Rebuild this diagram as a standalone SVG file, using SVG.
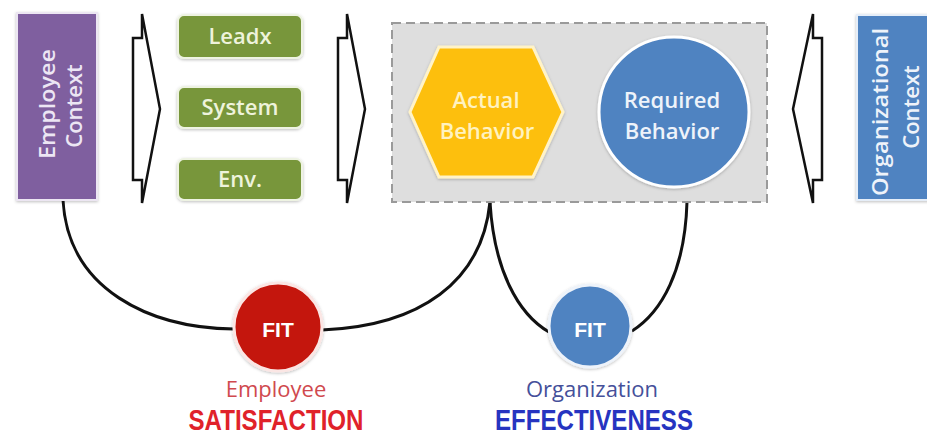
<svg xmlns="http://www.w3.org/2000/svg" width="927" height="435" viewBox="0 0 927 435">
  <defs>
    <filter id="soft" x="-10%" y="-10%" width="120%" height="120%">
      <feDropShadow dx="0" dy="1" stdDeviation="1.5" flood-color="#000" flood-opacity="0.25"/>
    </filter>
    <style>
      .lbl { font-family: "Open Sans", "Liberation Sans", sans-serif; font-size: 22px; font-weight: 600; text-anchor: middle; }
      .ctx { fill: #ece6f4; }
      .green { fill: #78963a; stroke: #eef3e2; stroke-width: 2; filter: url(#soft); }
      .gtxt { fill: #eef3dc; }
      .block { fill: #ffffff; stroke: #111; stroke-width: 2.5; stroke-linejoin: miter; }
      .link { fill: none; stroke: #111; stroke-width: 3; }
      .fit { font-family: "Liberation Sans", Arial, sans-serif; font-weight: bold; font-size: 21px; fill: #ffffff; text-anchor: middle; }
      .big { font-family: "Liberation Sans", Arial, sans-serif; font-weight: bold; font-size: 29px; text-anchor: middle; }
    </style>
  </defs>

  <rect width="927" height="435" fill="#ffffff"/>

  <!-- connectors: fit curves -->
  <g id="connectors">
    <path class="link" d="M63,200 C68,290 150,328 234,329"/>
    <path class="link" d="M322,330 C420,326 482,282 490,202"/>
    <path class="link" d="M490,202 C494,270 518,314 549,332"/>
    <path class="link" d="M687,202 C685,270 662,312 632,331"/>
  </g>

  <!-- outlined block arrows -->
  <g id="arrow-left-in">
    <path class="block" d="M133,38 L142,38 L142,14 L160,109 L142,203 L142,180 L133,180 Z"/>
  </g>
  <g id="arrow-mid-in">
    <path class="block" d="M338,38 L347,38 L347,14 L365,109 L347,203 L347,180 L338,180 Z"/>
  </g>
  <g id="arrow-right-in">
    <path class="block" d="M822,38 L813,38 L813,14 L793,109 L813,203 L813,180 L822,180 Z"/>
  </g>

  <!-- employee context -->
  <g id="employee-context">
    <rect x="17" y="13" width="80" height="187" fill="#7f5f9f" stroke="#ece6f2" stroke-width="2" filter="url(#soft)"/>
    <text class="lbl ctx" transform="translate(55,104) rotate(-90)" textLength="110" lengthAdjust="spacingAndGlyphs">Employee</text>
    <text class="lbl ctx" transform="translate(82,106) rotate(-90)">Context</text>
  </g>

  <!-- green factor boxes -->
  <g id="leadx">
    <rect class="green" x="178" y="15" width="124" height="43" rx="6"/>
    <text class="lbl gtxt" x="240" y="44">Leadx</text>
  </g>
  <g id="system">
    <rect class="green" x="178" y="87" width="124" height="41" rx="6"/>
    <text class="lbl gtxt" x="240" y="115">System</text>
  </g>
  <g id="env">
    <rect class="green" x="178" y="159" width="124" height="41" rx="6"/>
    <text class="lbl gtxt" x="240" y="187">Env.</text>
  </g>

  <!-- behavior frame -->
  <g id="behavior-frame">
    <rect x="392" y="23" width="375" height="179" fill="#dedede" stroke="#9a9a9a" stroke-width="2" stroke-dasharray="9 5"/>
  </g>
  <g id="actual-behavior">
    <polygon points="410,112 439,47 533,47 563,112 533,177 439,177" fill="#fdbf0f" stroke="#fff3c8" stroke-width="3" filter="url(#soft)"/>
    <text class="lbl" x="486" y="108" fill="#fff2c0">Actual</text>
    <text class="lbl" x="487" y="139" fill="#fff2c0">Behavior</text>
  </g>
  <g id="required-behavior">
    <circle cx="674" cy="112" r="75" fill="#4f83c1" stroke="#ffffff" stroke-width="3" filter="url(#soft)"/>
    <text class="lbl" x="672" y="108" fill="#eef3fa">Required</text>
    <text class="lbl" x="672" y="139" fill="#eef3fa">Behavior</text>
  </g>

  <!-- organizational context -->
  <g id="organizational-context">
    <rect x="857" y="15" width="80" height="185" fill="#4f83c1" stroke="#e6eef8" stroke-width="2" filter="url(#soft)"/>
    <text class="lbl" fill="#eef3fa" transform="translate(888,112) rotate(-90)" textLength="168" lengthAdjust="spacingAndGlyphs">Organizational</text>
    <text class="lbl" fill="#eef3fa" transform="translate(919,107) rotate(-90)">Context</text>
  </g>

  <!-- employee fit -->
  <g id="fit-employee">
    <circle cx="278" cy="327" r="44" fill="#c4140a" stroke="#fbe6e4" stroke-width="3" filter="url(#soft)"/>
    <text class="fit" x="278" y="337">FIT</text>
    <text class="lbl" x="276" y="397" fill="#d0494e" style="font-weight:400">Employee</text>
    <text class="big" x="276" y="430" fill="#e0222a" textLength="175" lengthAdjust="spacingAndGlyphs">SATISFACTION</text>
  </g>

  <!-- organization fit -->
  <g id="fit-organization">
    <circle cx="590" cy="326" r="41" fill="#4f83c1" stroke="#eef3fa" stroke-width="3" filter="url(#soft)"/>
    <text class="fit" x="590" y="337">FIT</text>
    <text class="lbl" x="592" y="397" fill="#45509a" style="font-weight:400">Organization</text>
    <text class="big" x="594" y="430" fill="#2634c0" textLength="198" lengthAdjust="spacingAndGlyphs">EFFECTIVENESS</text>
  </g>
</svg>
